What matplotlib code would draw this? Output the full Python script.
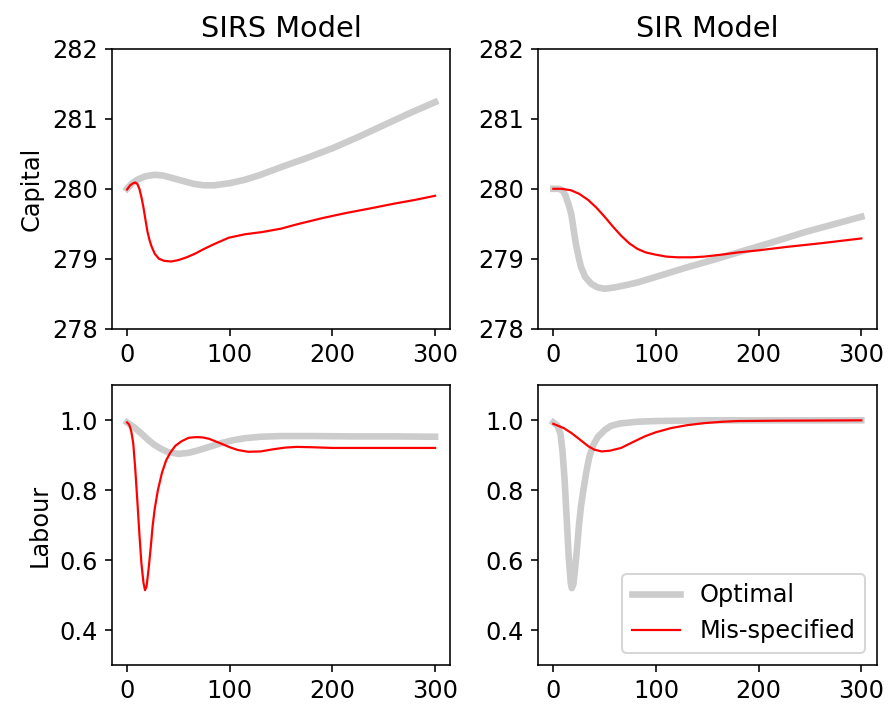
import matplotlib
matplotlib.use("Agg")
import matplotlib.pyplot as plt

# SIRS model, capital
t_sirs_k_opt = [0, 5, 10, 18, 27, 35, 45, 55, 65, 75, 85, 100, 115, 130, 150, 175, 200, 225, 250, 275, 300]
sirs_k_opt = [280.00, 280.08, 280.13, 280.18, 280.20, 280.19, 280.15, 280.11, 280.07, 280.05, 280.05,
              280.08, 280.13, 280.20, 280.31, 280.44, 280.58, 280.74, 280.91, 281.08, 281.24]
t_sirs_k_mis = [0, 3, 6, 8, 10, 12, 14, 16, 18, 20, 22, 24, 27, 31, 36, 43, 50, 58, 66, 75, 85, 99,
                115, 131, 150, 165, 190, 212, 237, 261, 280, 300]
sirs_k_mis = [279.99, 280.05, 280.08, 280.09, 280.07, 280.00, 279.88, 279.73, 279.55, 279.38, 279.26,
              279.17, 279.07, 279.00, 278.97, 278.96, 278.98, 279.02, 279.07, 279.14, 279.21, 279.30,
              279.35, 279.38, 279.43, 279.49, 279.58, 279.65, 279.72, 279.79, 279.84, 279.90]

# SIR model, capital
t_sir_k_opt = [0, 5, 9, 12, 15, 17.5, 20, 22, 25, 27, 31, 37, 43, 50, 60, 70, 82, 100, 131, 155, 180,
               210, 245, 275, 300]
sir_k_opt = [280.00, 280.00, 279.98, 279.90, 279.77, 279.64, 279.40, 279.21, 279.00, 278.88, 278.74,
             278.64, 278.59, 278.57, 278.59, 278.62, 278.66, 278.74, 278.88, 278.98, 279.09, 279.22,
             279.38, 279.50, 279.60]
t_sir_k_mis = [0, 8, 17, 25, 34, 42, 50, 58, 66, 74, 82, 90, 99, 110, 121, 135, 147, 165, 180, 200,
               228, 260, 300]
sir_k_mis = [280.00, 280.00, 279.98, 279.93, 279.84, 279.73, 279.60, 279.46, 279.33, 279.22, 279.14,
             279.09, 279.06, 279.03, 279.02, 279.02, 279.03, 279.06, 279.09, 279.12, 279.17, 279.22,
             279.29]

# SIRS model, labour
t_sirs_l_opt = [0, 7, 14, 21, 27, 34, 40, 50, 60, 69, 80, 92, 103, 115, 130, 150, 180, 220, 260, 300]
sirs_l_opt = [0.994, 0.980, 0.962, 0.943, 0.929, 0.917, 0.909, 0.904, 0.907, 0.914, 0.924, 0.935,
              0.943, 0.949, 0.953, 0.955, 0.955, 0.954, 0.954, 0.953]
t_sirs_l_mis = [0, 2, 4, 6, 8, 10, 12, 14, 16, 17.5, 19, 21, 23, 25, 27, 30, 34, 38, 42, 47, 53, 60,
                67, 74, 80, 86, 92, 100, 108, 118, 130, 142, 154, 165, 180, 200, 250, 300]
sirs_l_mis = [0.994, 0.988, 0.970, 0.935, 0.860, 0.770, 0.675, 0.590, 0.535, 0.514, 0.525, 0.575,
              0.635, 0.700, 0.748, 0.800, 0.850, 0.885, 0.907, 0.927, 0.940, 0.950, 0.952, 0.951,
              0.947, 0.940, 0.933, 0.923, 0.915, 0.910, 0.911, 0.917, 0.922, 0.924, 0.923, 0.921,
              0.921, 0.921]

# SIR model, labour
t_sir_l_opt = [0, 4, 7, 9, 11, 13, 15, 17, 18, 19.5, 21, 23, 25, 27, 29, 32, 35, 39, 43.5, 50, 56,
               65, 82, 100, 150, 300]
sir_l_opt = [0.994, 0.985, 0.962, 0.910, 0.830, 0.720, 0.610, 0.535, 0.520, 0.530, 0.570, 0.630,
             0.700, 0.755, 0.795, 0.850, 0.895, 0.930, 0.953, 0.972, 0.984, 0.991, 0.996, 0.998,
             1.000, 1.000]
t_sir_l_mis = [0, 10, 17.5, 25, 34, 40, 47, 55, 66, 77, 89, 100, 115, 130, 147, 165, 180, 220, 300]
sir_l_mis = [0.990, 0.978, 0.964, 0.947, 0.926, 0.916, 0.911, 0.913, 0.921, 0.937, 0.954, 0.966,
             0.978, 0.986, 0.992, 0.996, 0.998, 0.999, 1.000]

model_titles = ["SIRS Model", "SIR Model"]
row_labels = ["Capital", "Labour"]

plt.rcParams["font.size"] = 12

fig, axes = plt.subplots(2, 2, figsize=(889 / 144, 711 / 144), dpi=144)
fig.subplots_adjust(left=0.1256, right=0.9862, top=0.9311, bottom=0.0647,
                    wspace=0.258, hspace=0.203)

panels = [
    [(t_sirs_k_opt, sirs_k_opt, t_sirs_k_mis, sirs_k_mis),
     (t_sir_k_opt, sir_k_opt, t_sir_k_mis, sir_k_mis)],
    [(t_sirs_l_opt, sirs_l_opt, t_sirs_l_mis, sirs_l_mis),
     (t_sir_l_opt, sir_l_opt, t_sir_l_mis, sir_l_mis)],
]

for i in range(2):
    for j in range(2):
        ax = axes[i, j]
        t_opt, y_opt, t_mis, y_mis = panels[i][j]
        ax.plot(t_opt, y_opt, color="#cccccc", linewidth=3.3, label="Optimal")
        ax.plot(t_mis, y_mis, color="red", linewidth=1.1, label="Mis-specified")
        ax.set_xticks([0, 100, 200, 300])
        if i == 0:
            ax.set_ylim(278, 282)
            ax.set_yticks([278, 279, 280, 281, 282])
            ax.set_title(model_titles[j])
        else:
            ax.set_ylim(0.3, 1.1)
            ax.set_yticks([0.4, 0.6, 0.8, 1.0])
        if j == 0:
            ax.set_ylabel(row_labels[i])

axes[1, 1].legend(loc="lower right")

fig.savefig("out.png", dpi=144)
